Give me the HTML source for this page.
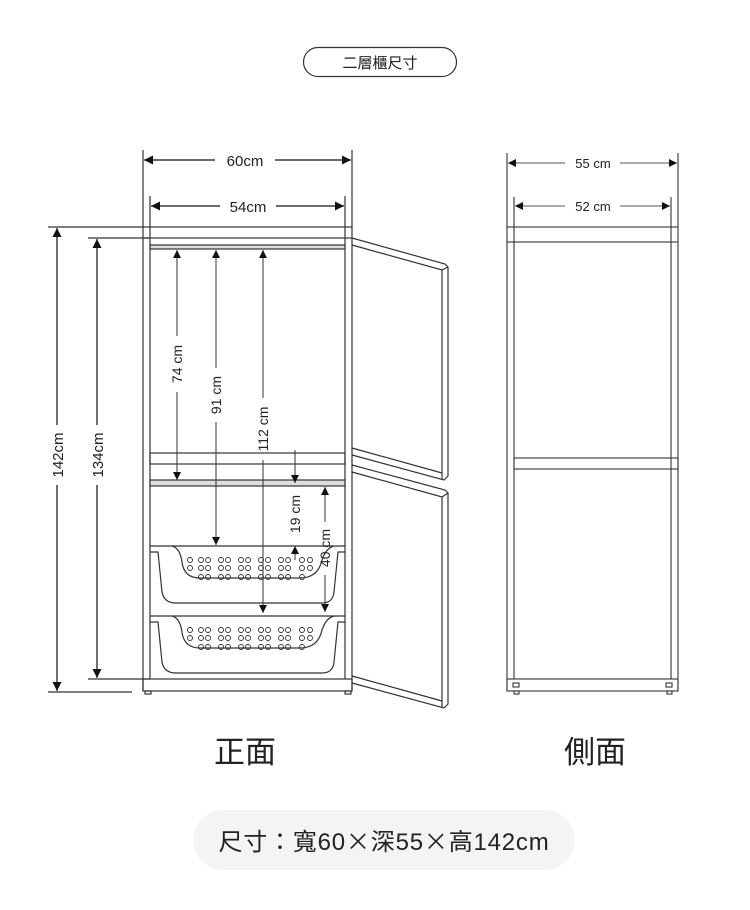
<!DOCTYPE html>
<html><head><meta charset="utf-8"><style>
body{margin:0;background:#fff;width:750px;height:910px;overflow:hidden}
svg{display:block}
text{font-family:"Liberation Sans","Noto Sans CJK TC",sans-serif;fill:#222}
</style></head><body>
<svg width="750" height="910" viewBox="0 0 750 910" xmlns="http://www.w3.org/2000/svg">
<defs>
<marker id="a" viewBox="0 0 10 10" refX="10" refY="5" markerWidth="10" markerHeight="8" markerUnits="userSpaceOnUse" orient="auto-start-reverse"><path d="M0,0L10,5L0,10z" fill="#111"/></marker>
<marker id="b" viewBox="0 0 10 10" refX="10" refY="5" markerWidth="15" markerHeight="9" markerUnits="userSpaceOnUse" orient="auto-start-reverse"><path d="M0,0L10,5L0,10z" fill="#111"/></marker>
</defs>
<rect x="303.5" y="47.5" width="153" height="29" rx="14.5" fill="none" stroke="#333" stroke-width="1.2"/>
<text x="380" y="68" font-size="15" text-anchor="middle">二層櫃尺寸</text>

<g stroke="#333" fill="none" stroke-width="1.2">
<line x1="143" y1="150" x2="143" y2="228"/><line x1="352" y1="150" x2="352" y2="228"/>
<line x1="150" y1="196" x2="150" y2="238"/><line x1="345" y1="196" x2="345" y2="238"/>
<line x1="144" y1="160" x2="215" y2="160" marker-start="url(#b)" stroke="#111"/>
<line x1="275" y1="160" x2="351" y2="160" marker-end="url(#b)" stroke="#111"/>
<line x1="151" y1="206" x2="220" y2="206" marker-start="url(#b)" stroke="#111"/>
<line x1="276" y1="206" x2="344" y2="206" marker-end="url(#b)" stroke="#111"/>
<line x1="48" y1="227" x2="143" y2="227"/><line x1="48" y1="692" x2="132" y2="692"/>
<line x1="88" y1="238" x2="150" y2="238"/><line x1="88" y1="679" x2="150" y2="679"/>
<line x1="57" y1="228" x2="57" y2="425" marker-start="url(#b)" stroke="#111"/>
<line x1="57" y1="485" x2="57" y2="691" marker-end="url(#b)" stroke="#111"/>
<line x1="97" y1="239" x2="97" y2="425" marker-start="url(#b)" stroke="#111"/>
<line x1="97" y1="485" x2="97" y2="678" marker-end="url(#b)" stroke="#111"/>

<rect x="143" y="227" width="209" height="11"/>
<line x1="143" y1="238" x2="143" y2="691"/><line x1="352" y1="238" x2="352" y2="691"/>
<line x1="150" y1="238" x2="150" y2="679"/><line x1="345" y1="238" x2="345" y2="679"/>
<rect x="150" y="245" width="195" height="4" fill="#ddd"/>
<rect x="150" y="453" width="195" height="11"/>
<rect x="150" y="480" width="195" height="6" fill="#ddd"/>
<rect x="143" y="679" width="209" height="12"/>
<rect x="145" y="691" width="6" height="3"/><rect x="345" y="691" width="6" height="3"/>

<path d="M352,238 L445,264 L448,267 L448,476 L444,480 L352,455"/>
<path d="M352,245 L442,270 L448,267 M442,270 L442,480 M352,448 L442,473"/>
<path d="M352,465 L445,490 L448,493 L448,704 L444,708 L352,683"/>
<path d="M352,472 L442,497 L448,493 M442,497 L442,708 M352,676 L442,701"/>

<g id="bk">
<line x1="150" y1="546" x2="345" y2="546"/>
<path d="M150,552 L158,552 L162,592 Q164,603 176,603 L322,603 Q333,603 334,592 L338,552 L345,552"/>
<path d="M172,546 Q180,548 182,562 Q184,578 200,578 L300,578 Q318,578 322,560 Q326,548 334,546"/>
</g>
<use href="#bk" transform="translate(0,70)"/>
</g>

<g fill="none" stroke="#333" stroke-width="0.9" id="holes">
<g id="r1">
<circle cx="190" cy="560" r="2.5"/><circle cx="201" cy="560" r="2.5"/><circle cx="208" cy="560" r="2.5"/>
<circle cx="221" cy="560" r="2.5"/><circle cx="228" cy="560" r="2.5"/><circle cx="241" cy="560" r="2.5"/><circle cx="248" cy="560" r="2.5"/>
<circle cx="261" cy="560" r="2.5"/><circle cx="268" cy="560" r="2.5"/><circle cx="281" cy="560" r="2.5"/><circle cx="288" cy="560" r="2.5"/>
<circle cx="302" cy="560" r="2.5"/><circle cx="310" cy="560" r="2.5"/>
</g>
<use href="#r1" transform="translate(0,8)"/>
<g transform="translate(0,17)">
<circle cx="201" cy="560" r="2.5"/><circle cx="208" cy="560" r="2.5"/>
<circle cx="221" cy="560" r="2.5"/><circle cx="228" cy="560" r="2.5"/><circle cx="241" cy="560" r="2.5"/><circle cx="248" cy="560" r="2.5"/>
<circle cx="261" cy="560" r="2.5"/><circle cx="268" cy="560" r="2.5"/><circle cx="281" cy="560" r="2.5"/><circle cx="288" cy="560" r="2.5"/>
<circle cx="302" cy="560" r="2.5"/>
</g>
</g>
<use href="#holes" transform="translate(0,70)"/>

<g stroke="#333" stroke-width="1" fill="none">
<line x1="177" y1="250" x2="177" y2="336" marker-start="url(#a)"/>
<line x1="177" y1="392" x2="177" y2="480" marker-end="url(#a)"/>
<line x1="216" y1="250" x2="216" y2="368" marker-start="url(#a)"/>
<line x1="216" y1="422" x2="216" y2="545" marker-end="url(#a)"/>
<line x1="263" y1="250" x2="263" y2="398" marker-start="url(#a)"/>
<line x1="263" y1="460" x2="263" y2="613" marker-end="url(#a)"/>
<line x1="295" y1="450" x2="295" y2="483" marker-end="url(#a)"/>
<line x1="295" y1="560" x2="295" y2="546" marker-end="url(#a)"/>
<line x1="325" y1="487" x2="325" y2="522" marker-start="url(#a)"/>
<line x1="325" y1="575" x2="325" y2="612" marker-end="url(#a)"/>
</g>
<g font-size="14">
<text transform="translate(182,364) rotate(-90)" text-anchor="middle">74 cm</text>
<text transform="translate(221,395) rotate(-90)" text-anchor="middle">91 cm</text>
<text transform="translate(268,429) rotate(-90)" text-anchor="middle">112 cm</text>
<text transform="translate(300,514) rotate(-90)" text-anchor="middle">19 cm</text>
<text transform="translate(330,548) rotate(-90)" text-anchor="middle">40 cm</text>
</g>
<text x="245" y="166" font-size="15" text-anchor="middle">60cm</text>
<text x="248" y="212" font-size="15" text-anchor="middle">54cm</text>
<text transform="translate(63,455) rotate(-90)" font-size="15" text-anchor="middle">142cm</text>
<text transform="translate(103,455) rotate(-90)" font-size="15" text-anchor="middle">134cm</text>

<g stroke="#333" fill="none" stroke-width="1.1">
<line x1="507" y1="153" x2="507" y2="228"/><line x1="678" y1="153" x2="678" y2="228"/>
<line x1="514" y1="197" x2="514" y2="242"/><line x1="671" y1="197" x2="671" y2="242"/>
<line x1="508" y1="163" x2="565" y2="163" marker-start="url(#a)" stroke="#555"/>
<line x1="620" y1="163" x2="677" y2="163" marker-end="url(#a)" stroke="#555"/>
<line x1="515" y1="206" x2="565" y2="206" marker-start="url(#a)" stroke="#555"/>
<line x1="620" y1="206" x2="670" y2="206" marker-end="url(#a)" stroke="#555"/>
<rect x="507" y="227" width="171" height="15"/>
<line x1="507" y1="242" x2="507" y2="691"/><line x1="678" y1="242" x2="678" y2="691"/>
<line x1="514" y1="242" x2="514" y2="679"/><line x1="671" y1="242" x2="671" y2="679"/>
<rect x="514" y="458" width="164" height="11"/>
<rect x="507" y="679" width="171" height="12"/>
<rect x="513" y="683" width="6" height="4"/><rect x="666" y="683" width="6" height="4"/>
<rect x="514" y="691" width="5" height="3"/><rect x="667" y="691" width="5" height="3"/>
</g>
<text x="593" y="168" font-size="13" text-anchor="middle">55 cm</text>
<text x="593" y="211" font-size="13" text-anchor="middle">52 cm</text>

<text x="245" y="763" font-size="31" text-anchor="middle">正面</text>
<text x="595" y="763" font-size="31" text-anchor="middle">側面</text>

<rect x="193" y="810" width="382" height="60" rx="30" fill="#f4f4f4"/>
<text x="384" y="850" font-size="24" text-anchor="middle" letter-spacing="0.8">尺寸：寬60<tspan font-family="Noto Sans CJK TC, sans-serif">×</tspan>深55<tspan font-family="Noto Sans CJK TC, sans-serif">×</tspan>高142cm</text>
</svg>
</body></html>
